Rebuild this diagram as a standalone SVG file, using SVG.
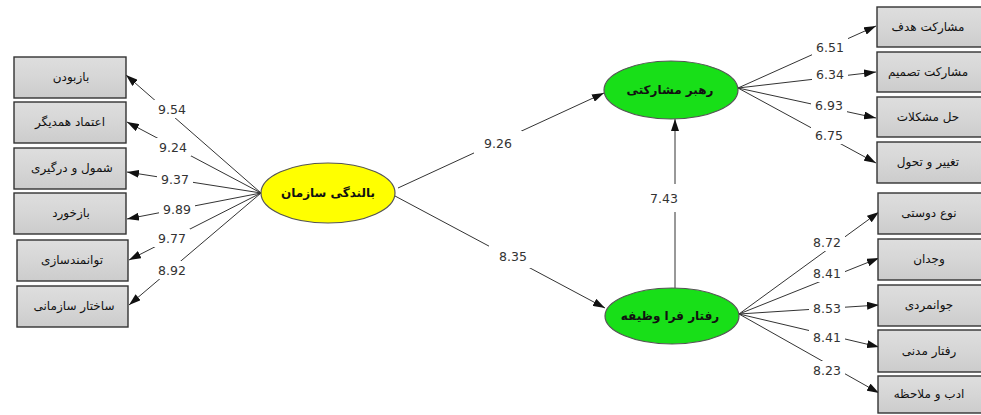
<svg xmlns="http://www.w3.org/2000/svg" width="981" height="415" viewBox="0 0 981 415">
  <style>
    .box { fill: url(#boxFill); stroke: #333; stroke-width: 1.4; }
    .btxt { font-family: "DejaVu Sans", "Noto Sans", sans-serif; font-size: 12px; fill: #111; text-anchor: middle; dominant-baseline: central; }
    .etxt { font-family: "DejaVu Sans", "Noto Sans", sans-serif; font-size: 12px; font-weight: bold; fill: #111; text-anchor: middle; dominant-baseline: central; }
    .yel { fill: #ffff00; stroke: #555; stroke-width: 1.2; }
    .grn { fill: #18df18; stroke: #555; stroke-width: 1.2; }
    .con line { stroke: #333; stroke-width: 1; marker-end: url(#ah); }
    .lab rect { fill: #fff; }
    .lab text { font-family: "DejaVu Sans", sans-serif; font-size: 12.5px; fill: #333; text-anchor: middle; dominant-baseline: central; }
  </style>
  <defs>
    <linearGradient id="boxFill" x1="0" y1="0" x2="0" y2="1">
      <stop offset="0" stop-color="#dedede"/>
      <stop offset="0.5" stop-color="#d6d6d6"/>
      <stop offset="1" stop-color="#cccccc"/>
    </linearGradient>
    <marker id="ah" viewBox="0 0 12 8" refX="12" refY="4" markerWidth="12" markerHeight="8" markerUnits="userSpaceOnUse" orient="auto">
      <path d="M0,0 L12,4 L0,8 z" fill="#111"/>
    </marker>
  </defs>

  <rect width="981" height="415" fill="#fff"/>

  <!-- connectors -->
  <g id="connectors" class="con">
    <!-- organisational development to its indicators -->
    <line x1="261" y1="193" x2="126" y2="75"/>
    <line x1="261" y1="193" x2="127" y2="122"/>
    <line x1="261" y1="193" x2="127" y2="172"/>
    <line x1="261" y1="193" x2="127" y2="219"/>
    <line x1="261" y1="193" x2="129" y2="260"/>
    <line x1="261" y1="193" x2="129" y2="305"/>
    <!-- structural paths -->
    <line x1="398" y1="188" x2="604" y2="93"/>
    <line x1="395" y1="196" x2="605" y2="308"/>
    <line x1="675" y1="288" x2="675" y2="119"/>
    <!-- participative leadership indicators -->
    <line x1="738" y1="88" x2="876" y2="26"/>
    <line x1="738" y1="88" x2="876" y2="72"/>
    <line x1="738" y1="88" x2="876" y2="118"/>
    <line x1="738" y1="88" x2="876" y2="163"/>
    <!-- extra-role behaviour indicators -->
    <line x1="739" y1="314" x2="879" y2="212"/>
    <line x1="739" y1="314" x2="879" y2="258"/>
    <line x1="739" y1="314" x2="879" y2="305"/>
    <line x1="739" y1="314" x2="879" y2="347"/>
    <line x1="739" y1="314" x2="879" y2="393"/>
  </g>

  <!-- path coefficients -->
  <g id="labels" class="lab">
    <rect x="154" y="100" width="36" height="18"/><text x="172" y="109">9.54</text>
    <rect x="155" y="138" width="36" height="18"/><text x="173" y="147">9.24</text>
    <rect x="157" y="170" width="36" height="18"/><text x="175" y="179">9.37</text>
    <rect x="159" y="200" width="36" height="18"/><text x="177" y="209">9.89</text>
    <rect x="154" y="229" width="36" height="18"/><text x="172" y="238">9.77</text>
    <rect x="154" y="261" width="36" height="18"/><text x="172" y="270">8.92</text>

    <rect x="474" y="131" width="48" height="24"/><text x="498" y="143">9.26</text>
    <rect x="489" y="244" width="48" height="24"/><text x="513" y="256">8.35</text>
    <rect x="645" y="184" width="38" height="28"/><text x="664" y="198">7.43</text>

    <rect x="812" y="38" width="36" height="18"/><text x="830" y="47">6.51</text>
    <rect x="812" y="65" width="36" height="18"/><text x="830" y="74">6.34</text>
    <rect x="811" y="96" width="36" height="18"/><text x="829" y="105">6.93</text>
    <rect x="811" y="126" width="36" height="18"/><text x="829" y="135">6.75</text>

    <rect x="809" y="233" width="36" height="18"/><text x="827" y="242">8.72</text>
    <rect x="809" y="264" width="36" height="18"/><text x="827" y="273">8.41</text>
    <rect x="809" y="299" width="36" height="18"/><text x="827" y="308">8.53</text>
    <rect x="809" y="328" width="36" height="18"/><text x="827" y="337">8.41</text>
    <rect x="809" y="361" width="36" height="18"/><text x="827" y="370">8.23</text>
  </g>

  <!-- latent variables -->
  <g id="org-development">
    <ellipse class="yel" cx="328" cy="193" rx="67" ry="30"/>
    <text class="etxt" x="328" y="193">بالندگی سازمان</text>
  </g>
  <g id="participative-leadership">
    <ellipse class="grn" cx="671" cy="90" rx="67" ry="29"/>
    <text class="etxt" x="670" y="90">رهبر مشارکتی</text>
  </g>
  <g id="extra-role-behaviour">
    <ellipse class="grn" cx="672" cy="316" rx="67" ry="28"/>
    <text class="etxt" x="670" y="316">رفتار فرا وظیفه</text>
  </g>

  <!-- left indicators -->
  <g id="openness"><rect class="box" x="14" y="57" width="112" height="41"/><text class="btxt" x="71" y="77">بازبودن</text></g>
  <g id="mutual-trust"><rect class="box" x="14" y="102" width="112" height="41"/><text class="btxt" x="70" y="122">اعتماد همدیگر</text></g>
  <g id="inclusion"><rect class="box" x="14" y="148" width="112" height="41"/><text class="btxt" x="72" y="168">شمول و درگیری</text></g>
  <g id="feedback"><rect class="box" x="14" y="193" width="112" height="41"/><text class="btxt" x="71" y="213">بازخورد</text></g>
  <g id="empowerment"><rect class="box" x="17" y="240" width="111" height="41"/><text class="btxt" x="72" y="260">توانمندسازی</text></g>
  <g id="org-structure"><rect class="box" x="17" y="286" width="111" height="41"/><text class="btxt" x="74" y="306">ساختار سازمانی</text></g>

  <!-- right indicators: participative leadership -->
  <g id="goal-participation"><rect class="box" x="877" y="7" width="112" height="40"/><text class="btxt" x="928" y="27">مشارکت هدف</text></g>
  <g id="decision-participation"><rect class="box" x="877" y="52" width="112" height="40"/><text class="btxt" x="928" y="72">مشارکت تصمیم</text></g>
  <g id="problem-solving"><rect class="box" x="877" y="97" width="112" height="40"/><text class="btxt" x="928" y="117">حل مشکلات</text></g>
  <g id="change"><rect class="box" x="877" y="142" width="112" height="41"/><text class="btxt" x="928" y="162">تغییر و تحول</text></g>

  <!-- right indicators: extra-role behaviour -->
  <g id="altruism"><rect class="box" x="878" y="193" width="112" height="41"/><text class="btxt" x="929" y="213">نوع دوستی</text></g>
  <g id="conscientiousness"><rect class="box" x="878" y="239" width="112" height="41"/><text class="btxt" x="929" y="259">وجدان</text></g>
  <g id="sportsmanship"><rect class="box" x="878" y="285" width="112" height="41"/><text class="btxt" x="929" y="305">جوانمردی</text></g>
  <g id="civic-virtue"><rect class="box" x="878" y="330" width="112" height="42"/><text class="btxt" x="929" y="351">رفتار مدنی</text></g>
  <g id="courtesy"><rect class="box" x="878" y="376" width="112" height="37"/><text class="btxt" x="929" y="394">ادب و ملاحظه</text></g>
</svg>
